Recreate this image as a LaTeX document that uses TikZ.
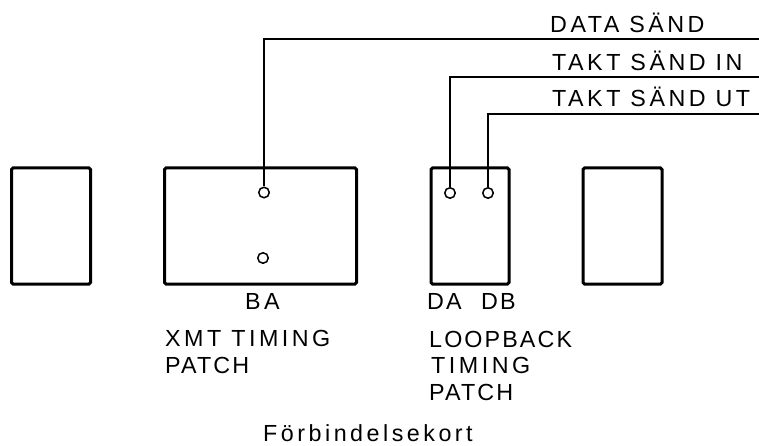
\documentclass[tikz,border=0pt]{standalone}
\usepackage{fontspec}
\setmainfont{Liberation Sans}[LetterSpace=15]
\begin{document}
\begin{tikzpicture}[x=1pt,y=-1pt,
 boxs/.style={draw=black,line width=3pt,rounded corners=1.5pt,inner sep=0pt,minimum height=116pt},
 wire/.style={draw=black,line width=1.3pt},
 pin/.style={circle,draw=black,line width=1.5pt,fill=white,minimum size=10.5pt,inner sep=0pt},
 lab/.style={anchor=base west,inner sep=0pt,font=\fontsize{23.3}{23.3}\selectfont,text=black},
 tight/.style={lab,font=\fontsize{23.3}{23.3}\selectfont\addfontfeature{LetterSpace=9}}]
\useasboundingbox (0,0) rectangle (759,446);
\node[boxs,minimum width=79pt] (b1) at (51,226) {};
\node[boxs,minimum width=192pt] (b2) at (260.5,226) {};
\node[boxs,minimum width=78pt] (b3) at (470,226) {};
\node[boxs,minimum width=79pt] (b4) at (622.5,226) {};
\coordinate (e1) at (759,39);
\coordinate (e2) at (759,77);
\coordinate (e3) at (759,114);
\node[pin] (p1) at (264,192.5) {};
\node[pin] (p2) at (263,258) {};
\node[pin] (p3) at (450,193) {};
\node[pin] (p4) at (488,193) {};
\draw[wire] (p1) |- (e1);
\draw[wire] (p3) |- (e2);
\draw[wire] (p4) |- (e3);
\node[lab] (t1) at (550,33) {DATA SÄND};
\node[lab] (t2) at (552,71) {TAKT SÄND IN};
\node[lab] (t3) at (552,107) {TAKT SÄND UT};
\node[lab] (t4) at (245,309) {BA};
\node[tight] (t5) at (427,309) {DA};
\node[tight] (t6) at (481,309) {DB};
\node[lab] (t7) at (165,346) {XMT TIMING};
\node[tight] (t7b) at (165,373) {PATCH};
\node[tight] (t8) at (429,347) {LOOPBACK};
\node[lab] (t8b) at (431,373) {TIMING};
\node[tight] (t8c) at (429,400) {PATCH};
\node[lab] (t9) at (263,441) {Förbindelsekort};
\end{tikzpicture}
\end{document}
